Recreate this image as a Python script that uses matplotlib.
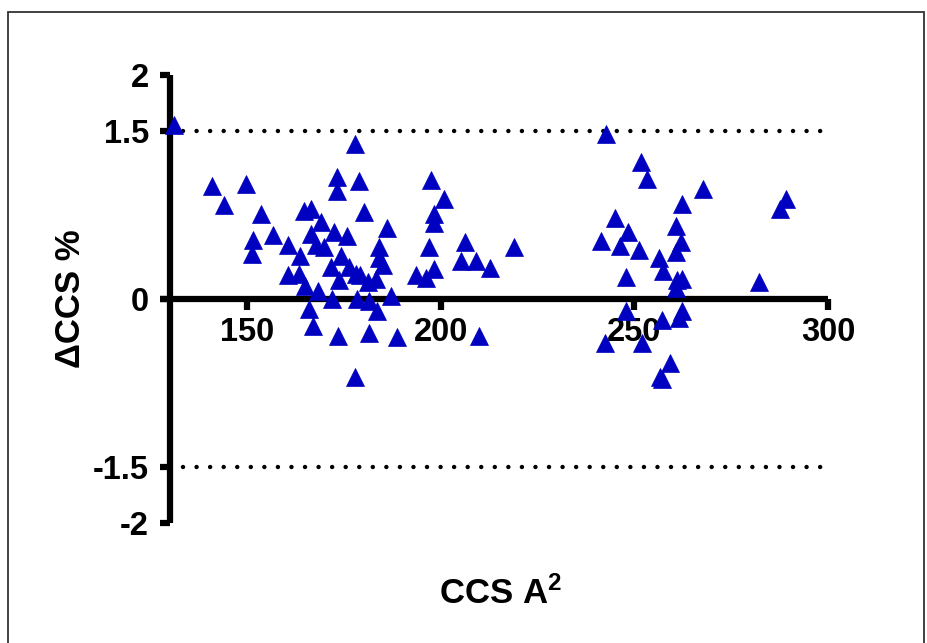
import matplotlib
matplotlib.use("Agg")
import matplotlib.pyplot as plt
from matplotlib.patches import Rectangle

# ------------ DATA -------------
ccs = [
    131.2, 140.9, 149.6, 144.1, 153.7, 156.8, 151.5, 151.2, 160.6, 163.6,
    160.5, 163.5, 164.9, 164.8, 166.5, 166.5, 167.8, 168.2, 165.9, 166.9,
    169.1, 169.9, 171.6, 172.5, 173.1, 173.1, 173.6, 171.9, 173.4, 175.7,
    174.2, 176.4, 177.9, 178.8, 180.2, 178.1, 179.2, 178.4, 181.1, 181.5,
    183.5, 181.4, 177.8, 184.1, 184.1, 186.0, 185.0, 183.2, 187.1, 188.6,
    193.6, 196.1, 197.4, 198.3, 198.3, 200.8, 197.0, 198.3, 206.2, 218.9,
    205.2, 209.0, 212.7, 209.9,
    242.8, 251.7, 253.3, 267.7, 289.1, 287.6, 262.4, 245.1, 260.8, 248.4,
    262.0, 241.5, 246.4, 251.3, 260.8, 256.3, 257.5, 247.9, 262.3, 261.0,
    260.7, 282.3, 247.9, 262.3, 257.1, 261.4, 242.5, 252.0, 259.3, 256.5,
    257.1,
]
delta_ccs = [
    1.55, 1.01, 1.03, 0.84, 0.76, 0.57, 0.53, 0.40, 0.48, 0.38,
    0.21, 0.22, 0.12, 0.79, 0.80, 0.58, 0.48, 0.07, -0.09, -0.24,
    0.69, 0.46, 0.29, 0.60, 1.09, 0.96, 0.17, 0.00, -0.33, 0.56,
    0.38, 0.29, 1.38, 1.05, 0.78, 0.22, 0.21, 0.00, 0.15, -0.02,
    -0.11, -0.30, -0.70, 0.46, 0.37, 0.63, 0.30, 0.18, 0.03, -0.34,
    0.21, 0.19, 1.06, 0.76, 0.68, 0.89, 0.46, 0.27, 0.51, 0.46,
    0.34, 0.34, 0.28, -0.33,
    1.47, 1.22, 1.07, 0.98, 0.89, 0.80, 0.85, 0.72, 0.65, 0.60,
    0.51, 0.52, 0.47, 0.44, 0.42, 0.37, 0.25, 0.20, 0.18, 0.17,
    0.10, 0.15, -0.11, -0.11, -0.19, -0.17, -0.39, -0.39, -0.57, -0.70,
    -0.71,
]
x_ticks = [150, 200, 250, 300]
x_tick_labels = ["150", "200", "250", "300"]
y_ticks = [2, 1.5, 0, -1.5, -2]
y_tick_labels = ["2", "1.5", "0", "-1.5", "-2"]
limit = 1.5
# -------------------------------

plt.rcParams["font.family"] = ["Liberation Sans", "DejaVu Sans"]
plt.rcParams["font.weight"] = "bold"
plt.rcParams["mathtext.fontset"] = "custom"
plt.rcParams["mathtext.rm"] = "Liberation Sans:bold"
plt.rcParams["mathtext.default"] = "rm"

W, H = 927, 643
fig = plt.figure(figsize=(W / 100, H / 100), dpi=100)

# figure frame
fig.patches.append(Rectangle((8 / W, -0.05), (924 - 8) / W, 1.05 - 12 / H,
                             transform=fig.transFigure, fill=False,
                             edgecolor="#333333", linewidth=1.3))

ax = fig.add_axes([160 / W, (H - 523) / H, 668 / W, 448 / H])
ax.set_xlim(127.5, 300)
ax.set_ylim(-2, 2)

for s in ["top", "right"]:
    ax.spines[s].set_visible(False)
ax.spines["left"].set_position(("data", 130))
ax.spines["bottom"].set_position(("data", 0))
ax.spines["left"].set_bounds(-2, 2)
ax.spines["bottom"].set_bounds(127.5, 300)
for s in ["left", "bottom"]:
    ax.spines[s].set_linewidth(4.5)
    ax.spines[s].set_capstyle("butt")

ax.set_xticks(x_ticks)
ax.set_xticklabels(x_tick_labels)
ax.set_yticks(y_ticks)
ax.set_yticklabels(y_tick_labels)
ax.tick_params(axis="x", length=8, width=4.5, pad=5, labelsize=23.5)
ax.tick_params(axis="y", length=7.5, width=4.5, pad=7.5, labelsize=23.5)

# dotted limit lines
for yv in (limit, -limit):
    ax.plot([133.4, 300], [yv, yv], color="black", lw=3.2,
            linestyle=(0, (0.01, 3.04)), dash_capstyle="round", zorder=3)

ax.plot(ccs, delta_ccs, linestyle="none", marker="^", markersize=13.5,
        color="#0000C0", markeredgecolor="#0000C0", markeredgewidth=0.5,
        clip_on=False, zorder=10)

ax.set_xlabel(r"CCS A$^{2}$", fontsize=25, fontweight="bold")
ax.xaxis.set_label_coords((500 - 160) / 668, (523 - 594) / 448)
ax.xaxis.label.set_va("center")
ax.set_ylabel("ΔCCS %", fontsize=25, fontweight="bold")
ax.yaxis.set_label_coords((70 - 160) / 668, 0.5)
ax.yaxis.label.set_va("center")

fig.savefig("out.png", dpi=100)
